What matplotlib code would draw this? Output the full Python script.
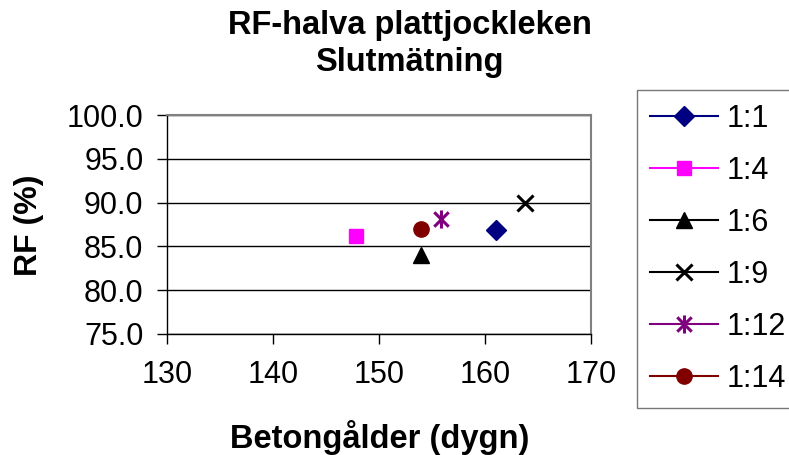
import matplotlib.pyplot as plt
from matplotlib.path import Path

# Data
labels = ['1:1', '1:4', '1:6', '1:9', '1:12', '1:14']
age_days = [161.1, 147.8, 154.0, 163.8, 155.9, 154.0]
rf_values = [86.9, 86.2, 84.0, 90.0, 88.1, 87.0]
colors = ['#000080', '#FF00FF', '#000000', '#000000', '#800080', '#800000']

y_ticks = [75.0, 80.0, 85.0, 90.0, 95.0, 100.0]
x_ticks = [130, 140, 150, 160, 170]

# Excel-style asterisk marker: vertical bar plus an X
asterisk = Path([(0, -1), (0, 1), (-0.8, -0.8), (0.8, 0.8), (-0.8, 0.8), (0.8, -0.8)],
                [Path.MOVETO, Path.LINETO, Path.MOVETO, Path.LINETO, Path.MOVETO, Path.LINETO])
markers = ['D', 's', '^', 'x', asterisk, 'o']
marker_sizes = [10, 10, 12, 12, 13, 11]

plt.rcParams['font.family'] = ['Liberation Sans', 'DejaVu Sans']

fig = plt.figure(figsize=(7.89, 4.55), dpi=100)
ax = fig.add_axes([0.2117, 0.266, 0.537, 0.481])

for i, lab in enumerate(labels):
    m = markers[i]
    if m in ('x',) or m is asterisk:
        ax.plot([age_days[i]], [rf_values[i]], linestyle='-', color=colors[i], marker=m,
                markersize=marker_sizes[i], markeredgewidth=2.2, label=lab)
    else:
        ax.plot([age_days[i]], [rf_values[i]], linestyle='-', color=colors[i], marker=m,
                markersize=marker_sizes[i], markeredgecolor=colors[i], label=lab)

ax.set_xlim(130, 170)
ax.set_ylim(75, 100)
ax.set_xticks(x_ticks)
ax.set_yticks(y_ticks)
ax.set_yticklabels([f'{v:.1f}' for v in y_ticks])
ax.tick_params(labelsize=22, length=7, width=1, direction='out')
ax.tick_params(axis='y', pad=10)
ax.tick_params(axis='x', pad=12)
ax.yaxis.grid(True, color='black', linewidth=1)
ax.set_axisbelow(True)

for side in ('top', 'right'):
    ax.spines[side].set_color('#808080')
    ax.spines[side].set_linewidth(1.5)
for side in ('left', 'bottom'):
    ax.spines[side].set_color('black')
    ax.spines[side].set_linewidth(1)

fig.text(0.519, 0.925, 'RF-halva plattjockleken', fontsize=23.5, fontweight='bold',
         ha='center', va='baseline')
fig.text(0.519, 0.843, 'Slutmätning', fontsize=23.5, fontweight='bold',
         ha='center', va='baseline')
fig.text(0.481, 0.0154, 'Betongålder (dygn)', fontsize=23.5, fontweight='bold',
         ha='center', va='baseline')
fig.text(0.037, 0.505, 'RF (%)', fontsize=23, fontweight='bold',
         ha='center', va='center', rotation=90)

leg = fig.legend(loc='upper left', bbox_to_anchor=(0.807, 0.802), fontsize=22,
                 frameon=True, fancybox=False, edgecolor='#555555',
                 handlelength=2.2, labelspacing=0.72, borderpad=0.45,
                 handletextpad=0.3, borderaxespad=0)
leg.get_frame().set_linewidth(1)

fig.savefig('out.png', dpi=100)
